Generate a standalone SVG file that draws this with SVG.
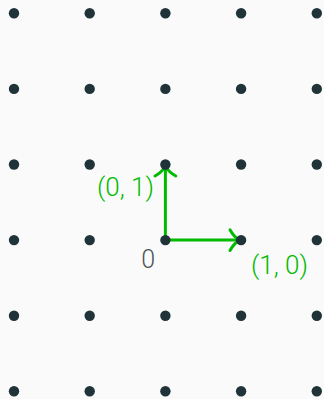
<svg xmlns="http://www.w3.org/2000/svg" width="324" height="399" viewBox="0 0 324 399">
  <defs>
    <style>
      .pt { fill: #1f3338; }
      .vec { fill: none; stroke: #00bb00; stroke-width: 3; stroke-linecap: round; stroke-linejoin: round; }
      .lbl { font-family: Roboto, "Noto Sans", sans-serif; font-weight: 300; font-size: 26px; fill: #00bb00; }
      .org { font-family: Roboto, "Noto Sans", sans-serif; font-weight: 300; font-size: 25px; fill: #4a5558; }
    </style>
    <circle id="dot" r="5.2" class="pt"/>
  </defs>
  <rect width="324" height="399" fill="#fafafa"/>

  <!-- basis vectors -->
  <g id="connectors">
    <g id="e2">
      <path class="vec" d="M165.4,240.1 V167"/>
      <path class="vec" d="M155,176 Q162,172 165.4,166.5 Q168.8,172 175.8,176"/>
    </g>
    <g id="e1">
      <path class="vec" d="M165.4,240.1 H238.5"/>
      <path class="vec" d="M230,229.7 Q234,237 239.5,240.1 Q234,243.2 230,250.5"/>
    </g>
  </g>

  <!-- integer lattice -->
  <g id="lattice">
    <use href="#dot" x="14" y="13.3"/><use href="#dot" x="89.7" y="13.3"/><use href="#dot" x="165.4" y="13.3"/><use href="#dot" x="241.1" y="13.3"/><use href="#dot" x="316.8" y="13.3"/>
    <use href="#dot" x="14" y="88.9"/><use href="#dot" x="89.7" y="88.9"/><use href="#dot" x="165.4" y="88.9"/><use href="#dot" x="241.1" y="88.9"/><use href="#dot" x="316.8" y="88.9"/>
    <use href="#dot" x="14" y="164.5"/><use href="#dot" x="89.7" y="164.5"/><use href="#dot" x="165.4" y="164.5"/><use href="#dot" x="241.1" y="164.5"/><use href="#dot" x="316.8" y="164.5"/>
    <use href="#dot" x="14" y="240.1"/><use href="#dot" x="89.7" y="240.1"/><use href="#dot" x="165.4" y="240.1"/><use href="#dot" x="241.1" y="240.1"/><use href="#dot" x="316.8" y="240.1"/>
    <use href="#dot" x="14" y="315.7"/><use href="#dot" x="89.7" y="315.7"/><use href="#dot" x="165.4" y="315.7"/><use href="#dot" x="241.1" y="315.7"/><use href="#dot" x="316.8" y="315.7"/>
    <use href="#dot" x="14" y="391.3"/><use href="#dot" x="89.7" y="391.3"/><use href="#dot" x="165.4" y="391.3"/><use href="#dot" x="241.1" y="391.3"/><use href="#dot" x="316.8" y="391.3"/>
  </g>

  <g id="origin"><text class="org" x="148.3" y="268" text-anchor="middle">0</text></g>
  <g id="label-e2"><text class="lbl" x="154" y="196" text-anchor="end">(0, 1)</text></g>
  <g id="label-e1"><text class="lbl" x="251" y="274">(1, 0)</text></g>
</svg>
